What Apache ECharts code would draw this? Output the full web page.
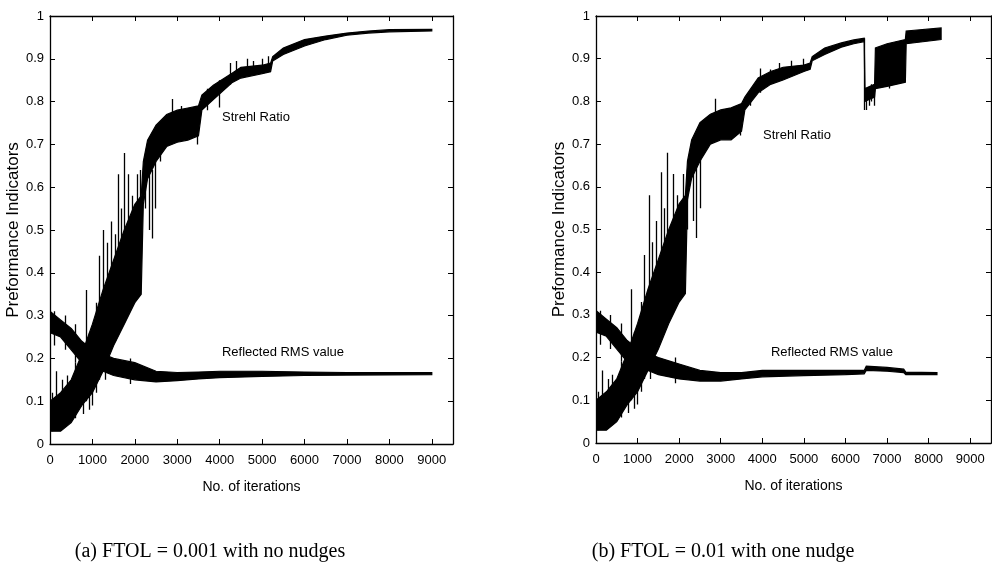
<!DOCTYPE html>
<html>
<head>
<meta charset="utf-8">
<script src="https://cdn.jsdelivr.net/npm/echarts@6/dist/echarts.min.js"></script>
<style>
html,body{margin:0;padding:0;background:#fff;}
#chart{width:992px;height:579px;}
</style>
</head>
<body>
<div id="chart"></div>
<script>
// ---------- DATA ----------
const xTickLabels = ['0','1000','2000','3000','4000','5000','6000','7000','8000','9000'];
const yTickLabels = ['0','0.1','0.2','0.3','0.4','0.5','0.6','0.7','0.8','0.9','1'];

// Panel (a): Strehl ratio band [iteration, low, high]
const strehlA = [
  [0,0.03,0.10],[250,0.03,0.12],[500,0.05,0.15],[750,0.09,0.21],[1000,0.12,0.28],
  [1250,0.17,0.36],[1500,0.23,0.43],[1750,0.28,0.50],[2000,0.33,0.56],[2150,0.35,0.58],
  [2200,0.56,0.66],[2300,0.62,0.71],[2500,0.66,0.745],[2750,0.695,0.77],[3000,0.705,0.78],
  [3250,0.71,0.785],[3500,0.72,0.79],[3580,0.78,0.815],[3850,0.805,0.838],[4300,0.845,0.867],
  [4500,0.855,0.88],[5000,0.865,0.885],[5200,0.87,0.89],[5250,0.895,0.905],[5500,0.91,0.925],
  [6000,0.93,0.945],[6500,0.945,0.953],[7000,0.955,0.96],[7500,0.96,0.965],[8000,0.963,0.968],
  [9000,0.965,0.969]
];
// Panel (a): Strehl spikes [iteration, low, high]
const strehlSpikesA = [
  [60,0.03,0.12],[150,0.04,0.17],[300,0.04,0.15],[400,0.05,0.16],[600,0.06,0.19],[780,0.07,0.22],
  [850,0.10,0.36],[920,0.08,0.26],[1000,0.09,0.27],[1080,0.12,0.33],
  [1150,0.15,0.44],[1250,0.18,0.50],[1350,0.20,0.47],[1450,0.25,0.52],[1530,0.24,0.49],[1600,0.30,0.63],
  [1680,0.28,0.55],[1740,0.35,0.68],[1850,0.35,0.63],[1950,0.40,0.58],[2050,0.45,0.63],[2120,0.45,0.64],
  [2250,0.55,0.62],[2350,0.50,0.63],[2420,0.48,0.64],[2480,0.55,0.66],[2600,0.66,0.72],
  [2880,0.72,0.806],[3100,0.71,0.79],[3470,0.70,0.79],[3700,0.78,0.83],[3980,0.786,0.85],
  [4250,0.84,0.89],[4400,0.85,0.895],[4640,0.86,0.90],[4800,0.865,0.895],[5000,0.865,0.90],
  [5150,0.87,0.906]
];
// Panel (a): reflected RMS band
const rmsA = [
  [0,0.26,0.31],[250,0.25,0.29],[500,0.22,0.27],[750,0.19,0.24],[1000,0.18,0.22],
  [1500,0.16,0.20],[2000,0.15,0.19],[2500,0.145,0.17],[3000,0.148,0.167],[3500,0.152,0.168],
  [4000,0.155,0.17],[5000,0.158,0.17],[6000,0.16,0.168],[7000,0.161,0.167],[9000,0.162,0.167]
];
const rmsSpikesA = [
  [100,0.23,0.31],[350,0.22,0.30],[600,0.19,0.28],[900,0.16,0.24],[1300,0.15,0.21],[1900,0.14,0.20]
];

// Panel (b): Strehl ratio band
const strehlB = [
  [0,0.03,0.10],[250,0.03,0.12],[500,0.05,0.15],[750,0.09,0.21],[1000,0.12,0.28],
  [1250,0.17,0.36],[1500,0.22,0.43],[1750,0.28,0.50],[2000,0.33,0.56],[2150,0.35,0.58],
  [2200,0.57,0.66],[2300,0.62,0.71],[2500,0.66,0.75],[2750,0.70,0.77],[3000,0.71,0.78],
  [3250,0.71,0.785],[3500,0.73,0.795],[3580,0.78,0.81],[3900,0.82,0.855],[4200,0.84,0.87],
  [4500,0.85,0.88],[5000,0.87,0.885],[5150,0.875,0.89],[5200,0.895,0.905],[5500,0.91,0.925],
  [5900,0.927,0.937],[6200,0.935,0.944],[6450,0.94,0.948],[6470,0.80,0.83],[6700,0.81,0.84],
  [6720,0.83,0.925],[7000,0.835,0.935],[7440,0.845,0.945],[7460,0.935,0.965],[8300,0.945,0.972]
];
const strehlSpikesB = [
  [60,0.03,0.12],[150,0.04,0.17],[300,0.04,0.15],[400,0.05,0.16],[600,0.06,0.19],[780,0.07,0.22],
  [850,0.10,0.36],[920,0.08,0.26],[1000,0.09,0.27],[1080,0.12,0.33],
  [1150,0.15,0.44],[1290,0.18,0.58],[1350,0.20,0.47],[1450,0.25,0.52],[1580,0.30,0.634],
  [1650,0.28,0.55],[1720,0.35,0.68],[1850,0.35,0.63],[1950,0.40,0.58],[2090,0.45,0.63],[2200,0.50,0.64],
  [2330,0.52,0.64],[2420,0.48,0.66],[2500,0.55,0.70],[2860,0.72,0.806],[3460,0.72,0.79],
  [3700,0.79,0.82],[3940,0.82,0.877],[4180,0.84,0.875],[4400,0.85,0.89],[4700,0.86,0.895],
  [4980,0.87,0.90],[6460,0.78,0.948],[6500,0.78,0.83],[6560,0.79,0.835],[6620,0.80,0.84],
  [6690,0.79,0.84],[7050,0.83,0.87]
];
const rmsB = [
  [0,0.26,0.31],[250,0.25,0.29],[500,0.22,0.27],[750,0.19,0.24],[1000,0.18,0.22],
  [1500,0.16,0.20],[2000,0.15,0.185],[2500,0.145,0.17],[3000,0.145,0.165],[3500,0.15,0.165],
  [4000,0.155,0.17],[5000,0.158,0.17],[6000,0.16,0.17],[6450,0.162,0.17],[6500,0.17,0.18],
  [7000,0.168,0.177],[7400,0.165,0.173],[7450,0.16,0.166],[8200,0.16,0.165]
];
const rmsSpikesB = [
  [100,0.23,0.31],[350,0.22,0.30],[600,0.19,0.28],[900,0.16,0.24],[1300,0.15,0.21],[1900,0.14,0.20]
];

const seriesLabels = { strehl: 'Strehl Ratio', rms: 'Reflected RMS value' };
const yAxisTitle = 'Preformance Indicators';
const xAxisTitle = 'No. of iterations';
const captions = ['(a) FTOL = 0.001 with no nudges', '(b) FTOL = 0.01 with one nudge'];

// ---------- CHART ----------
const FONT = "'Liberation Sans Narrow','Liberation Sans',Arial,sans-serif";
const chart = echarts.init(document.getElementById('chart'), null, {renderer:'canvas'});

const grids = [
  {left:50, top:16, width:403, height:428},
  {left:596, top:16, width:395, height:427}
];

function xAxes(gi){
  const base = {gridIndex:gi, type:'value', min:0, max:9500, interval:1000,
    axisLine:{show:true, onZero:false, lineStyle:{color:'#000', width:1.3}},
    axisTick:{show:true, inside:true, length:5, lineStyle:{color:'#000'}},
    splitLine:{show:false}};
  return [
    Object.assign({}, base, {position:'bottom',
      axisLabel:{show:true, color:'#000', fontFamily:FONT, fontSize:13, margin:10, showMaxLabel:false,
        formatter:(v)=>{const i=Math.round(v/1000); return (v%1000===0 && xTickLabels[i]!==undefined)?xTickLabels[i]:'';}},
      name:xAxisTitle, nameLocation:'middle', nameGap:36,
      nameTextStyle:{color:'#000', fontFamily:FONT, fontSize:14}}),
    Object.assign({}, base, {position:'top', axisLabel:{show:false}})
  ];
}
function yAxes(gi){
  const base = {gridIndex:gi, type:'value', min:0, max:1, interval:0.1,
    axisLine:{show:true, onZero:false, lineStyle:{color:'#000', width:1.3}},
    axisTick:{show:true, inside:true, length:5, lineStyle:{color:'#000'}},
    splitLine:{show:false}};
  return [
    Object.assign({}, base, {position:'left',
      axisLabel:{show:true, color:'#000', fontFamily:FONT, fontSize:13, margin:6,
        formatter:(v)=>{const i=Math.round(v*10); return yTickLabels[i];}},
      name:yAxisTitle, nameLocation:'middle', nameGap:27, nameRotate:90,
      nameTextStyle:{color:'#000', fontFamily:FONT, fontSize:17}}),
    Object.assign({}, base, {position:'right', axisLabel:{show:false}})
  ];
}

// band drawn as a filled polygon between low and high envelopes
function band(data, xi, yi){
  return {type:'custom', xAxisIndex:xi, yAxisIndex:yi, silent:true, z:3,
    data:[[data[0][0], data[0][1]]],
    clip:true,
    renderItem:function(params, api){
      const pts = [];
      for (let i=0;i<data.length;i++) pts.push(api.coord([data[i][0], data[i][1]]));
      for (let i=data.length-1;i>=0;i--) pts.push(api.coord([data[i][0], data[i][2]]));
      return {type:'polygon', shape:{points:pts},
        style:{fill:'#000', stroke:'#000', lineWidth:1.2}};
    }};
}
function spikes(data, xi, yi){
  return {type:'lines', coordinateSystem:'cartesian2d', xAxisIndex:xi, yAxisIndex:yi, silent:true,
    data:data.map(d=>({coords:[[d[0],d[1]],[d[0],d[2]]]})),
    lineStyle:{color:'#000', width:1.3, opacity:1}, z:4};
}

const series = [
  band(strehlA, 0, 0), band(rmsA, 0, 0),
  spikes(strehlSpikesA, 0, 0), spikes(rmsSpikesA, 0, 0),
  band(strehlB, 2, 2), band(rmsB, 2, 2),
  spikes(strehlSpikesB, 2, 2), spikes(rmsSpikesB, 2, 2)
];

const option = {
  backgroundColor:'#fff',
  animation:false,
  grid: grids,
  xAxis: [].concat(xAxes(0), xAxes(1)),
  yAxis: [].concat(yAxes(0), yAxes(1)),
  series: series,
  graphic: [
    {type:'text', x:256, y:117, style:{text:seriesLabels.strehl, fill:'#000', font:'13px '+FONT, align:'center', verticalAlign:'middle'}},
    {type:'text', x:283, y:352, style:{text:seriesLabels.rms, fill:'#000', font:'13px '+FONT, align:'center', verticalAlign:'middle'}},
    {type:'text', x:797, y:135, style:{text:seriesLabels.strehl, fill:'#000', font:'13px '+FONT, align:'center', verticalAlign:'middle'}},
    {type:'text', x:832, y:352, style:{text:seriesLabels.rms, fill:'#000', font:'13px '+FONT, align:'center', verticalAlign:'middle'}},
    {type:'text', x:210, y:552, style:{text:captions[0], fill:'#000', font:"20px 'Liberation Serif','DejaVu Serif',serif", align:'center', verticalAlign:'middle'}},
    {type:'text', x:723, y:552, style:{text:captions[1], fill:'#000', font:"20px 'Liberation Serif','DejaVu Serif',serif", align:'center', verticalAlign:'middle'}}
  ]
};
chart.setOption(option);
</script>
</body>
</html>
